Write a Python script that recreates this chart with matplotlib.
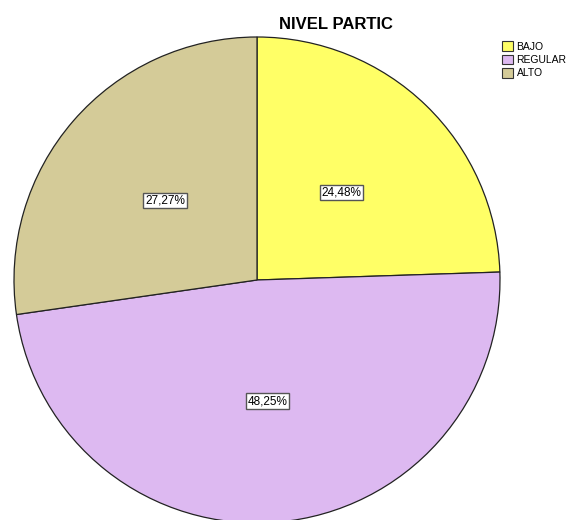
import matplotlib
matplotlib.use("Agg")
import matplotlib.pyplot as plt
from matplotlib.patches import Patch

plt.rcParams['font.family'] = ['Liberation Sans', 'DejaVu Sans']

categories = ["BAJO", "REGULAR", "ALTO"]
values = [24.48, 48.25, 27.27]
colors = ["#FFFF66", "#DDB9F1", "#D4CB98"]
title = "NIVEL PARTIC"

fig = plt.figure(figsize=(5.68, 5.20), dpi=100)
fig.patch.set_facecolor("white")

cx, cy, r = 257, 280, 243
W, H = 568, 520
ax = fig.add_axes([(cx - r) / W, (H - cy - r) / H, 2 * r / W, 2 * r / H])
wedges, texts, autotexts = ax.pie(
    values, colors=colors, startangle=90, counterclock=False,
    autopct=lambda p: f"{p:.2f}%".replace(".", ","), pctdistance=0.5,
    wedgeprops=dict(edgecolor="#222222", linewidth=0.9),
    textprops=dict(fontsize=8.5, color="black"),
    radius=1.0,
)
for t in autotexts:
    t.set_bbox(dict(boxstyle="square,pad=0.15", facecolor="white", edgecolor="#555555", linewidth=1))
ax.set_xlim(-1, 1)
ax.set_ylim(-1, 1)
ax.set_aspect("auto")
ax.axis("off")
for w in wedges:
    w.set_clip_on(False)

fig.text(336 / W, 1 - 24 / H, title, ha="center", va="center", fontsize=12, fontweight="bold")

handles = [Patch(facecolor=c, edgecolor="#333333", linewidth=0.8) for c in colors]
fig.legend(handles, categories, loc="upper left", bbox_to_anchor=(502 / W, 1 - 41.5 / H),
           frameon=False, fontsize=7.5, handlelength=1.1, handleheight=1.0,
           handletextpad=0.3, labelspacing=0.3, borderaxespad=0, borderpad=0)

fig.savefig("out.png", dpi=100)
